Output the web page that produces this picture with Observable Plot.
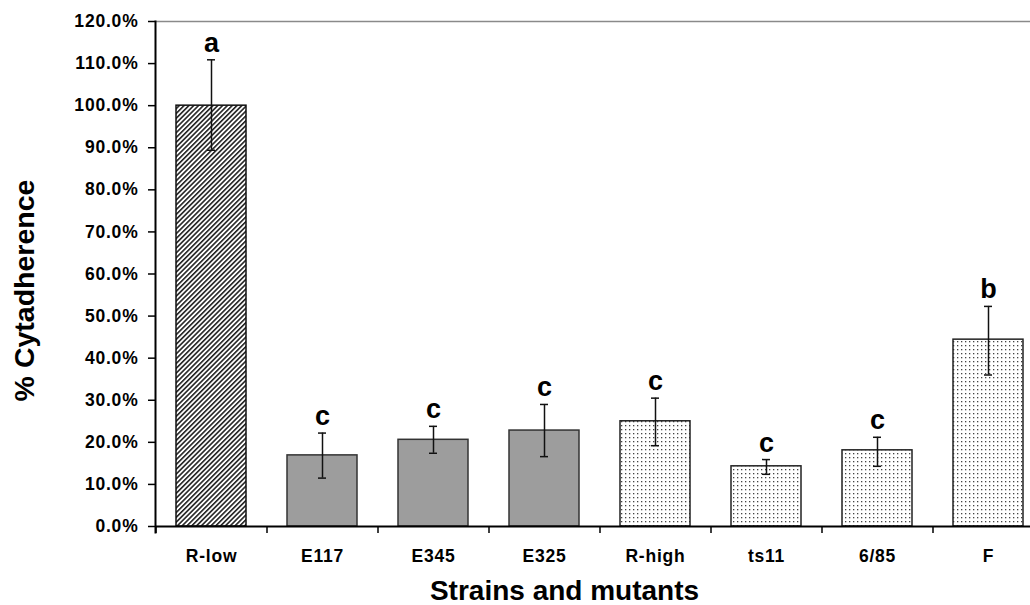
<!DOCTYPE html>
<html><head><meta charset="utf-8">
<script src="https://cdn.jsdelivr.net/npm/d3@7"></script>
<script src="https://cdn.jsdelivr.net/npm/@observablehq/plot@0.6"></script>
<style>
body{margin:0;background:#fff;}
svg{font-family:"Liberation Sans", Arial, sans-serif;}
g[aria-label="y-axis tick label"] text, g[aria-label="x-axis tick label"] text{letter-spacing:0.8px;}
</style></head><body><div id="chart"></div>
<script>
const strains = ["R-low","E117","E345","E325","R-high","ts11","6/85","F"];
const groups = ["hatch","gray","gray","gray","dots","dots","dots","dots"];
const means = [1.000,0.169,0.206,0.228,0.250,0.143,0.181,0.444];
const errLow = [0.894,0.115,0.174,0.166,0.192,0.124,0.143,0.360];
const errHigh = [1.109,0.222,0.238,0.290,0.305,0.159,0.212,0.523];
const letters = ["a","c","c","c","c","c","c","b"];
const yTicks = [0,0.1,0.2,0.3,0.4,0.5,0.6,0.7,0.8,0.9,1.0,1.1,1.2];
const xTitle = "Strains and mutants";
const yTitle = "% Cytadherence";

const data = strains.map((s,i)=>({strain:s, group:groups[i], value:means[i], lo:errLow[i], hi:errHigh[i], letter:letters[i]}));
const fills = {hatch:"url(#hatch)", gray:"#9d9d9d", dots:"url(#dots)"};
const strokes = {hatch:"#111", gray:"#333", dots:"#222"};

const bars = Object.keys(fills).map(g => Plot.barY(data.filter(d=>d.group===g), {
  x:"strain", y:"value", fill:fills[g], stroke:strokes[g], strokeWidth:1.5
}));

const chart = Plot.plot({
  width:1030, height:605,
  marginLeft:155, marginRight:0, marginTop:21, marginBottom:79,
  style:{fontFamily:'"Liberation Sans", Arial, sans-serif', background:"white", color:"black"},
  x:{domain:strains, range:[155,1043], paddingInner:0.37, paddingOuter:0.185, axis:null},
  y:{domain:[0,1.2], axis:null},
  marks:[
    Plot.ruleY([1.2], {stroke:"#8a8a8a", strokeWidth:1.5}),
    ...bars,
    Plot.ruleX(data, {x:"strain", y1:"lo", y2:"hi", stroke:"#111", strokeWidth:1.5}),
    Plot.tickY(data, {x:"strain", y:"lo", insetLeft:31, insetRight:31, stroke:"#111", strokeWidth:1.5}),
    Plot.tickY(data, {x:"strain", y:"hi", insetLeft:31, insetRight:31, stroke:"#111", strokeWidth:1.5}),
    Plot.text(data, {x:"strain", y:"hi", text:"letter", dy:-8, lineAnchor:"bottom", fontSize:27, fontWeight:"bold", fill:"#000"}),
    Plot.axisY({ticks:yTicks, tickFormat:d3.format(".1%"), tickSize:7, tickPadding:10, fontSize:17.5, fontWeight:"bold", strokeWidth:1.5, label:null}),
    Plot.axisX({tickSize:0, tickPadding:23, fontSize:17.5, fontWeight:"bold", label:null}),
    Plot.axisX({tickSize:7, tickFormat:() => "", dx:-55.5, strokeWidth:1.5, label:null}),
    Plot.ruleY([0], {stroke:"#000", strokeWidth:2}),
    Plot.frame({anchor:"left", stroke:"#000", strokeWidth:2, insetBottom:-6}),
    Plot.text([xTitle], {text:d=>d, frameAnchor:"bottom", dx:-28.5, dy:65, lineAnchor:"middle", fontSize:28, fontWeight:"bold", fill:"#000"}),
    Plot.text([yTitle], {text:d=>d, frameAnchor:"left", textAnchor:"middle", rotate:-90, dx:-131, dy:16.5, lineAnchor:"middle", fontSize:28.5, fontWeight:"bold", fill:"#000"})
  ]
});

const svg = d3.select(chart);
const defs = svg.insert("defs", ":first-child");
const h = defs.append("pattern").attr("id","hatch").attr("width",3.4).attr("height",3.4)
  .attr("patternUnits","userSpaceOnUse").attr("patternTransform","rotate(45)");
h.append("rect").attr("width",3.4).attr("height",3.4).attr("fill","#fff");
h.append("line").attr("x1",0.8).attr("y1",0).attr("x2",0.8).attr("y2",3.4).attr("stroke","#222").attr("stroke-width",1.6);
const p = defs.append("pattern").attr("id","dots").attr("width",4).attr("height",4).attr("patternUnits","userSpaceOnUse");
p.append("rect").attr("width",4).attr("height",4).attr("fill","#fff");
p.append("rect").attr("x",1).attr("y",1).attr("width",1.3).attr("height",1.3).attr("fill","#444");

document.getElementById("chart").appendChild(chart);
</script></body></html>
